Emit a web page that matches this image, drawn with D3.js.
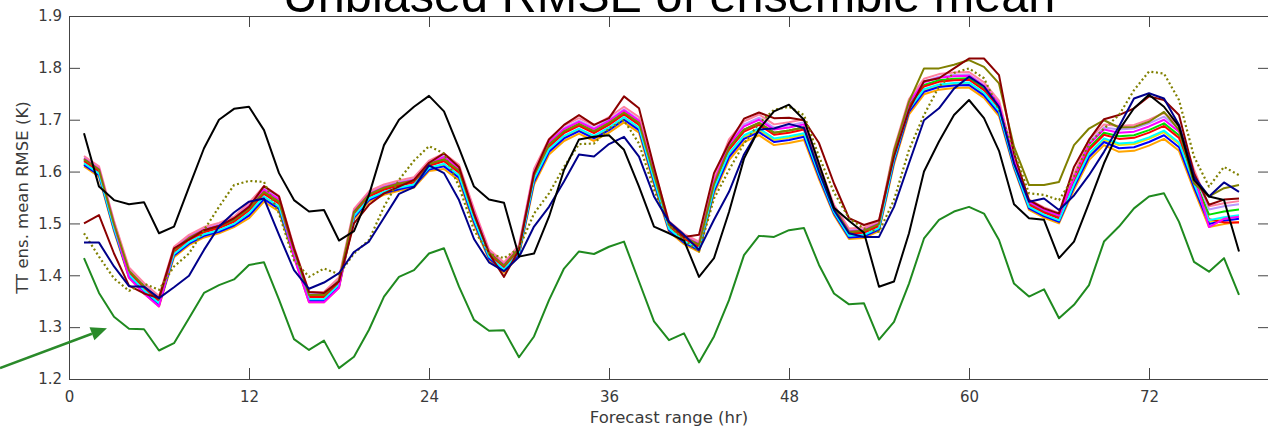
<!DOCTYPE html>
<html>
<head>
<meta charset="utf-8">
<script src="https://cdn.jsdelivr.net/npm/d3@7"></script>
<style>
  body { margin: 0; background: #fff; }
  svg { display: block; }
</style>
</head>
<body>
<div id="chart"></div>
<script>
// forecast hours 1..78
const hours = d3.range(1, 79);
const xTicks = [0, 12, 24, 36, 48, 60, 72];
const yTicks = [1.2, 1.3, 1.4, 1.5, 1.6, 1.7, 1.8, 1.9];

const titleText = "Unbiased RMSE of ensemble mean";
const xLabel = "Forecast range (hr)";
const yLabel = "TT ens. mean RMSE (K)";

// distinct runs
const black = [1.674,1.571,1.545,1.537,1.541,1.481,1.494,1.570,1.645,1.700,
  1.721,1.725,1.680,1.597,1.545,1.523,1.526,1.467,1.485,1.555,
  1.651,1.700,1.725,1.746,1.716,1.645,1.571,1.546,1.540,1.436,
  1.442,1.513,1.603,1.662,1.667,1.670,1.642,1.571,1.494,1.481,
  1.467,1.397,1.433,1.522,1.625,1.682,1.716,1.729,1.700,1.615,
  1.530,1.505,1.482,1.378,1.388,1.481,1.600,1.658,1.709,1.738,
  1.703,1.640,1.537,1.510,1.507,1.433,1.465,1.539,1.616,1.680,
  1.722,1.748,1.725,1.687,1.584,1.552,1.545,1.446];

const green = [1.433,1.366,1.320,1.297,1.296,1.255,1.269,1.317,1.366,1.381,
  1.392,1.420,1.425,1.353,1.277,1.256,1.274,1.221,1.243,1.295,
  1.359,1.397,1.410,1.442,1.452,1.378,1.314,1.293,1.294,1.242,
  1.282,1.352,1.413,1.446,1.441,1.455,1.465,1.388,1.311,1.275,
  1.288,1.232,1.282,1.352,1.439,1.476,1.474,1.487,1.491,1.420,
  1.365,1.344,1.346,1.276,1.310,1.384,1.471,1.507,1.523,1.532,
  1.519,1.468,1.384,1.359,1.373,1.317,1.343,1.381,1.465,1.494,
  1.529,1.552,1.558,1.503,1.426,1.407,1.433,1.362];

const navy = [1.463,1.463,1.417,1.379,1.378,1.356,1.377,1.399,1.449,1.494,
  1.521,1.542,1.548,1.478,1.410,1.374,1.386,1.404,1.445,1.465,
  1.511,1.557,1.570,1.612,1.597,1.545,1.470,1.425,1.408,1.435,
  1.494,1.532,1.581,1.633,1.629,1.653,1.667,1.629,1.552,1.503,
  1.478,1.449,1.507,1.561,1.633,1.681,1.683,1.692,1.684,1.600,
  1.526,1.481,1.474,1.474,1.532,1.616,1.699,1.722,1.760,1.783,
  1.764,1.725,1.616,1.542,1.548,1.526,1.554,1.593,1.638,1.687,
  1.741,1.751,1.741,1.690,1.590,1.552,1.579,1.561];

const darkRed = [1.500,1.516,1.442,1.380,1.365,1.356,1.452,1.469,1.487,1.495,
  1.510,1.532,1.572,1.552,1.452,1.368,1.366,1.388,1.500,1.536,
  1.558,1.571,1.584,1.617,1.635,1.609,1.519,1.442,1.397,1.449,
  1.597,1.662,1.690,1.709,1.690,1.703,1.745,1.722,1.609,1.501,
  1.474,1.478,1.597,1.655,1.702,1.714,1.703,1.704,1.699,1.655,
  1.577,1.510,1.497,1.506,1.629,1.719,1.774,1.780,1.799,1.818,
  1.818,1.786,1.635,1.545,1.529,1.519,1.609,1.661,1.701,1.709,
  1.722,1.745,1.738,1.709,1.597,1.536,1.546,1.548];

const oliveDotted = [1.481,1.436,1.394,1.370,1.384,1.372,1.417,1.442,1.487,1.532,
  1.574,1.582,1.580,1.519,1.429,1.397,1.413,1.402,1.442,1.468,
  1.532,1.584,1.621,1.649,1.635,1.571,1.487,1.442,1.433,1.452,
  1.519,1.558,1.609,1.653,1.654,1.683,1.699,1.654,1.565,1.497,
  1.468,1.446,1.548,1.603,1.654,1.693,1.719,1.725,1.709,1.629,
  1.560,1.510,1.490,1.484,1.545,1.642,1.709,1.764,1.790,1.799,
  1.780,1.719,1.639,1.558,1.555,1.545,1.590,1.654,1.683,1.709,
  1.757,1.793,1.789,1.738,1.629,1.571,1.609,1.593];

const oliveSolid = [1.624,1.604,1.499,1.409,1.379,1.354,1.449,1.472,1.487,1.495,
  1.507,1.529,1.561,1.542,1.449,1.362,1.362,1.390,1.522,1.556,
  1.569,1.577,1.583,1.615,1.624,1.602,1.517,1.444,1.419,1.452,
  1.594,1.652,1.678,1.692,1.678,1.694,1.714,1.694,1.594,1.498,
  1.474,1.459,1.576,1.646,1.681,1.694,1.675,1.679,1.685,1.604,
  1.530,1.484,1.486,1.499,1.640,1.735,1.799,1.799,1.806,1.815,
  1.802,1.770,1.648,1.574,1.574,1.580,1.651,1.683,1.699,1.685,
  1.686,1.696,1.715,1.680,1.577,1.552,1.568,1.574];

// the tight bundle of ensemble runs
const runPink = [1.630,1.610,1.505,1.415,1.385,1.360,1.455,1.478,1.493,1.501,
  1.513,1.540,1.572,1.553,1.455,1.368,1.368,1.396,1.528,1.562,
  1.575,1.583,1.589,1.621,1.635,1.613,1.528,1.450,1.425,1.458,
  1.605,1.663,1.689,1.703,1.689,1.705,1.725,1.705,1.605,1.504,
  1.480,1.465,1.587,1.662,1.697,1.710,1.691,1.695,1.701,1.615,
  1.536,1.490,1.492,1.505,1.644,1.740,1.779,1.788,1.791,1.792,
  1.772,1.737,1.626,1.546,1.531,1.520,1.595,1.662,1.691,1.688,
  1.690,1.700,1.713,1.690,1.604,1.533,1.539,1.543];

const runViolet = [1.627,1.607,1.502,1.412,1.382,1.357,1.452,1.475,1.490,1.498,
  1.510,1.535,1.567,1.548,1.452,1.365,1.365,1.393,1.525,1.559,
  1.572,1.580,1.586,1.618,1.630,1.608,1.523,1.447,1.422,1.455,
  1.600,1.658,1.684,1.698,1.684,1.700,1.720,1.700,1.600,1.501,
  1.477,1.462,1.582,1.656,1.691,1.704,1.685,1.689,1.695,1.610,
  1.533,1.487,1.489,1.502,1.639,1.735,1.774,1.783,1.786,1.787,
  1.767,1.732,1.623,1.543,1.528,1.517,1.590,1.656,1.685,1.681,
  1.683,1.693,1.706,1.683,1.598,1.527,1.533,1.537];

const runMagenta = [1.625,1.605,1.500,1.395,1.365,1.340,1.450,1.473,1.488,1.496,
  1.508,1.533,1.565,1.546,1.435,1.348,1.348,1.376,1.523,1.557,
  1.570,1.578,1.584,1.616,1.628,1.606,1.521,1.445,1.420,1.453,
  1.598,1.656,1.682,1.696,1.682,1.698,1.718,1.698,1.598,1.499,
  1.475,1.460,1.580,1.652,1.687,1.700,1.681,1.685,1.691,1.608,
  1.531,1.485,1.487,1.500,1.637,1.733,1.772,1.781,1.784,1.785,
  1.765,1.730,1.621,1.541,1.526,1.515,1.588,1.652,1.681,1.675,
  1.677,1.687,1.700,1.677,1.594,1.493,1.509,1.513];

const runLime = [1.622,1.602,1.497,1.407,1.377,1.352,1.447,1.470,1.485,1.493,
  1.505,1.528,1.560,1.541,1.447,1.360,1.360,1.388,1.520,1.554,
  1.567,1.575,1.581,1.613,1.623,1.601,1.516,1.442,1.417,1.450,
  1.593,1.651,1.677,1.691,1.677,1.693,1.713,1.693,1.593,1.496,
  1.472,1.457,1.575,1.646,1.681,1.694,1.675,1.679,1.685,1.603,
  1.528,1.482,1.484,1.497,1.632,1.728,1.767,1.776,1.779,1.780,
  1.760,1.725,1.618,1.538,1.523,1.512,1.583,1.646,1.675,1.668,
  1.670,1.680,1.693,1.670,1.588,1.517,1.523,1.527];

const runRed = [1.620,1.600,1.495,1.405,1.375,1.350,1.445,1.468,1.483,1.491,
  1.503,1.525,1.557,1.538,1.445,1.358,1.358,1.386,1.518,1.552,
  1.565,1.573,1.579,1.611,1.620,1.598,1.513,1.440,1.415,1.448,
  1.590,1.648,1.674,1.688,1.674,1.690,1.710,1.690,1.590,1.494,
  1.470,1.455,1.572,1.642,1.677,1.690,1.671,1.675,1.681,1.600,
  1.526,1.480,1.482,1.495,1.629,1.725,1.764,1.773,1.776,1.777,
  1.757,1.722,1.616,1.536,1.521,1.510,1.580,1.642,1.671,1.663,
  1.665,1.675,1.688,1.665,1.584,1.508,1.502,1.502];

const runCyan = [1.616,1.596,1.491,1.401,1.371,1.346,1.441,1.464,1.479,1.487,
  1.499,1.520,1.552,1.533,1.441,1.354,1.354,1.382,1.514,1.548,
  1.561,1.569,1.575,1.607,1.615,1.593,1.508,1.436,1.411,1.444,
  1.585,1.643,1.669,1.683,1.669,1.685,1.705,1.685,1.585,1.490,
  1.466,1.451,1.567,1.635,1.670,1.683,1.664,1.668,1.674,1.595,
  1.522,1.476,1.478,1.491,1.624,1.720,1.759,1.768,1.771,1.772,
  1.752,1.717,1.612,1.532,1.517,1.506,1.575,1.635,1.664,1.654,
  1.656,1.666,1.679,1.656,1.577,1.506,1.512,1.516];

const runYellow = [1.615,1.595,1.490,1.400,1.370,1.345,1.440,1.463,1.478,1.486,
  1.498,1.517,1.549,1.530,1.440,1.353,1.353,1.381,1.513,1.547,
  1.560,1.568,1.574,1.606,1.612,1.590,1.505,1.435,1.410,1.443,
  1.582,1.640,1.666,1.680,1.666,1.682,1.702,1.682,1.582,1.489,
  1.465,1.450,1.564,1.632,1.667,1.680,1.661,1.665,1.671,1.592,
  1.521,1.475,1.477,1.490,1.621,1.717,1.756,1.765,1.768,1.769,
  1.749,1.714,1.611,1.531,1.516,1.505,1.572,1.632,1.661,1.651,
  1.653,1.663,1.676,1.653,1.574,1.503,1.509,1.513];

const runBlue = [1.613,1.593,1.488,1.398,1.368,1.343,1.438,1.461,1.476,1.484,
  1.496,1.515,1.547,1.528,1.438,1.351,1.351,1.379,1.511,1.545,
  1.558,1.566,1.572,1.604,1.610,1.588,1.503,1.433,1.408,1.441,
  1.580,1.638,1.664,1.678,1.664,1.680,1.700,1.680,1.580,1.487,
  1.463,1.448,1.562,1.628,1.663,1.676,1.657,1.661,1.667,1.590,
  1.519,1.473,1.475,1.488,1.619,1.715,1.754,1.763,1.766,1.767,
  1.747,1.712,1.609,1.529,1.514,1.503,1.570,1.628,1.657,1.645,
  1.647,1.657,1.670,1.647,1.570,1.499,1.505,1.509];

const runOrange = [1.610,1.590,1.485,1.395,1.365,1.340,1.435,1.458,1.473,1.481,
  1.493,1.510,1.542,1.523,1.435,1.348,1.348,1.376,1.508,1.542,
  1.555,1.563,1.569,1.601,1.605,1.583,1.498,1.430,1.405,1.438,
  1.575,1.633,1.659,1.673,1.659,1.675,1.695,1.675,1.575,1.484,
  1.460,1.445,1.557,1.622,1.657,1.670,1.651,1.655,1.661,1.585,
  1.516,1.470,1.472,1.485,1.614,1.710,1.749,1.758,1.761,1.762,
  1.742,1.707,1.606,1.526,1.511,1.500,1.565,1.622,1.651,1.638,
  1.640,1.650,1.663,1.640,1.564,1.493,1.499,1.503];

// annotation arrow, in data units (hour, K)
const arrowFrom = [-4.6, 1.221];
const arrowTo = [2.53, 1.298];

// drawing order: bundle first, distinct runs on top
const series = [
  { values: runOrange,  color: "#ffa500" },
  { values: runYellow,  color: "#f0e000" },
  { values: runBlue,    color: "#0000ff" },
  { values: runLime,    color: "#00e000" },
  { values: runRed,     color: "#ff0000" },
  { values: runViolet,  color: "#b999ff" },
  { values: runPink,    color: "#ff80a0" },
  { values: runCyan,    color: "#00ffff" },
  { values: runMagenta, color: "#ff00ff" },
  { values: oliveSolid, color: "#808000" },
  { values: darkRed,    color: "#8b0000" },
  { values: oliveDotted, color: "#808000", dash: "2,2.6" },
  { values: navy,       color: "#00008b" },
  { values: black,      color: "#000000" },
  { values: green,      color: "#1f8a1f" }
];

const width = 1268, height = 433;
const margin = { top: 16, left: 69 };
const plotW = 1200, plotH = 363;

const svg = d3.select("#chart").append("svg")
  .attr("width", width)
  .attr("height", height);

const x = d3.scaleLinear().domain([0, 80]).range([margin.left, margin.left + plotW]);
const y = d3.scaleLinear().domain([1.2, 1.9]).range([margin.top + plotH, margin.top]);

const tickFont = "DejaVu Sans, sans-serif";

function styleAxis(g, labels) {
  g.select(".domain").attr("stroke", "#444").attr("stroke-width", 1);
  g.selectAll(".tick line").attr("stroke", "#444").attr("stroke-width", 1);
  g.selectAll(".tick text")
    .attr("fill", "#3a3a3a")
    .style("font-family", tickFont)
    .style("font-size", "15px");
  if (!labels) g.selectAll(".tick text").remove();
}

// box with inward ticks on all sides
svg.append("g")
  .attr("transform", `translate(0,${y(1.2)})`)
  .call(d3.axisBottom(x).tickValues(xTicks).tickSize(-11).tickSizeOuter(0).tickPadding(12))
  .call(g => styleAxis(g, true));

svg.append("g")
  .attr("transform", `translate(0,${y(1.9)})`)
  .call(d3.axisTop(x).tickValues(xTicks).tickSize(-11).tickSizeOuter(0))
  .call(g => styleAxis(g, false));

svg.append("g")
  .attr("transform", `translate(${x(0)},0)`)
  .call(d3.axisLeft(y).tickValues(yTicks).tickFormat(d3.format(".1f")).tickSize(-11).tickSizeOuter(0).tickPadding(7))
  .call(g => styleAxis(g, true));

svg.append("g")
  .attr("transform", `translate(${x(80)},0)`)
  .call(d3.axisRight(y).tickValues(yTicks).tickSize(-11).tickSizeOuter(0))
  .call(g => styleAxis(g, false));

// lines
const line = d3.line()
  .x((d, i) => x(hours[i]))
  .y(d => y(d));

svg.append("g")
  .attr("fill", "none")
  .attr("stroke-linejoin", "round")
  .selectAll("path")
  .data(series)
  .enter().append("path")
  .attr("d", d => line(d.values))
  .attr("stroke", d => d.color)
  .attr("stroke-width", d => d.dash ? 2.2 : 2)
  .attr("stroke-dasharray", d => d.dash || null);

// title (partly cut off at the top)
svg.append("text")
  .attr("x", (x(0) + x(80)) / 2)
  .attr("y", 12)
  .attr("text-anchor", "middle")
  .style("font-family", "Liberation Sans, Arial, sans-serif")
  .style("font-size", "48.6px")
  .attr("fill", "#000")
  .text(titleText);

// axis labels
svg.append("text")
  .attr("x", (x(0) + x(80)) / 2)
  .attr("y", 423)
  .attr("text-anchor", "middle")
  .style("font-family", tickFont)
  .style("font-size", "16.5px")
  .attr("fill", "#3a3a3a")
  .text(xLabel);

svg.append("text")
  .attr("transform", `translate(28,${(y(1.2) + y(1.9)) / 2}) rotate(-90)`)
  .attr("text-anchor", "middle")
  .style("font-family", tickFont)
  .style("font-size", "16.5px")
  .attr("fill", "#3a3a3a")
  .text(yLabel);

// green arrow pointing at the lowest curve
const ax0 = x(arrowFrom[0]), ay0 = y(arrowFrom[1]);
const ax1 = x(arrowTo[0]), ay1 = y(arrowTo[1]);
const ang = Math.atan2(ay1 - ay0, ax1 - ax0);
const headLen = 16, headHalf = 7;
const bx = ax1 - headLen * Math.cos(ang), by = ay1 - headLen * Math.sin(ang);

svg.append("line")
  .attr("x1", ax0).attr("y1", ay0)
  .attr("x2", bx).attr("y2", by)
  .attr("stroke", "#2a8a2a")
  .attr("stroke-width", 2.5);

svg.append("path")
  .attr("d", d3.line()([
    [ax1, ay1],
    [bx + headHalf * Math.sin(ang), by - headHalf * Math.cos(ang)],
    [bx - headHalf * Math.sin(ang), by + headHalf * Math.cos(ang)]
  ]) + "Z")
  .attr("fill", "#2a8a2a");
</script>
</body>
</html>
